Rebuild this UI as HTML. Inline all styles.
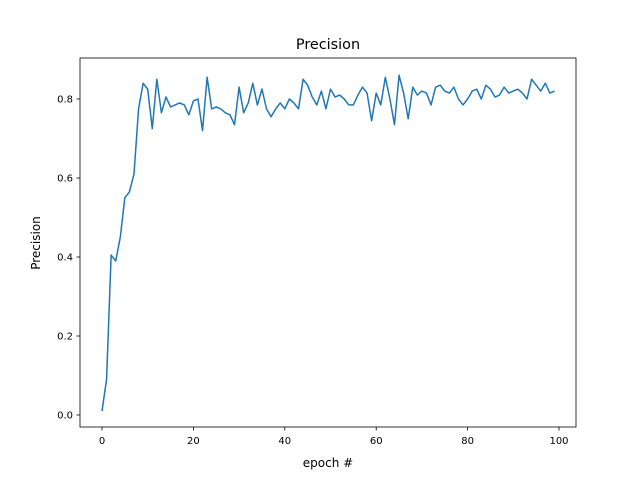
<!DOCTYPE html>
<html><head><meta charset="utf-8"><style>
html,body{margin:0;padding:0;background:#fff;}
svg{display:block;font-family:"DejaVu Sans","Liberation Sans",sans-serif;}
</style></head><body>
<svg id="chart" width="640" height="480">
<rect width="640" height="480" fill="#fff"/>
<text x="328" y="49" text-anchor="middle" font-size="14.4">Precision</text>
<g id="axes"></g>
<text x="328" y="467" text-anchor="middle" font-size="12">epoch #</text>
<text x="40" y="243" text-anchor="middle" font-size="12" transform="rotate(-90 40 243)">Precision</text>
</svg>
<script>
const xTicks=[0,20,40,60,80,100];
const yTicks=[0.0,0.2,0.4,0.6,0.8];
const yTickLabels=["0.0","0.2","0.4","0.6","0.8"];
const precision=[0.01,0.09,0.405,0.39,0.45,0.55,0.565,0.61,0.775,0.84,0.825,0.725,0.85,0.765,0.805,0.78,0.785,0.79,0.785,0.76,0.795,0.8,0.72,0.855,0.775,0.78,0.775,0.765,0.76,0.735,0.83,0.765,0.79,0.84,0.785,0.825,0.775,0.755,0.775,0.79,0.775,0.8,0.79,0.775,0.85,0.835,0.805,0.785,0.82,0.775,0.825,0.805,0.81,0.8,0.785,0.785,0.81,0.83,0.815,0.745,0.815,0.785,0.855,0.8,0.735,0.86,0.815,0.75,0.83,0.81,0.82,0.815,0.785,0.83,0.835,0.82,0.815,0.83,0.8,0.785,0.8,0.82,0.825,0.8,0.835,0.825,0.805,0.81,0.83,0.815,0.82,0.825,0.815,0.8,0.85,0.835,0.82,0.84,0.815,0.82];
const L=80,R=576,T=58,B=427;
const xs=v=>102+(v/100)*457;
const ys=v=>415-(v/0.8)*316;
const NS="http://www.w3.org/2000/svg";
const g=document.getElementById('axes');
function mk(t,a){const e=document.createElementNS(NS,t);for(const k in a)e.setAttribute(k,a[k]);g.appendChild(e);return e;}
xTicks.forEach(v=>{
 const l=mk('line',{x1:xs(v),x2:xs(v),y1:B,y2:B+3.5,stroke:'#000','stroke-width':0.8});
 
 
 const t=mk('text',{x:xs(v),y:B+17,'text-anchor':'middle','font-size':10});
 t.textContent=v;
 
 
});
yTicks.forEach((v,i)=>{
 const l=mk('line',{x1:L-3.5,x2:L,y1:ys(v),y2:ys(v),stroke:'#000','stroke-width':0.8});
 
 
 const t=mk('text',{x:L-7,y:ys(v)+3.5,'text-anchor':'end','font-size':10});
 t.textContent=yTickLabels[i];
 
 
});
const pts=precision.map((v,i)=>xs(i).toFixed(2)+','+ys(v).toFixed(2)).join(' ');
const pl=mk('polyline',{points:pts,fill:'none',stroke:'#1f77b4','stroke-width':1.5,'stroke-linejoin':'round'});


const fr=mk('rect',{x:L,y:T,width:R-L,height:B-T,fill:'none',stroke:'#000','stroke-width':0.8});


</script>
</body></html>
